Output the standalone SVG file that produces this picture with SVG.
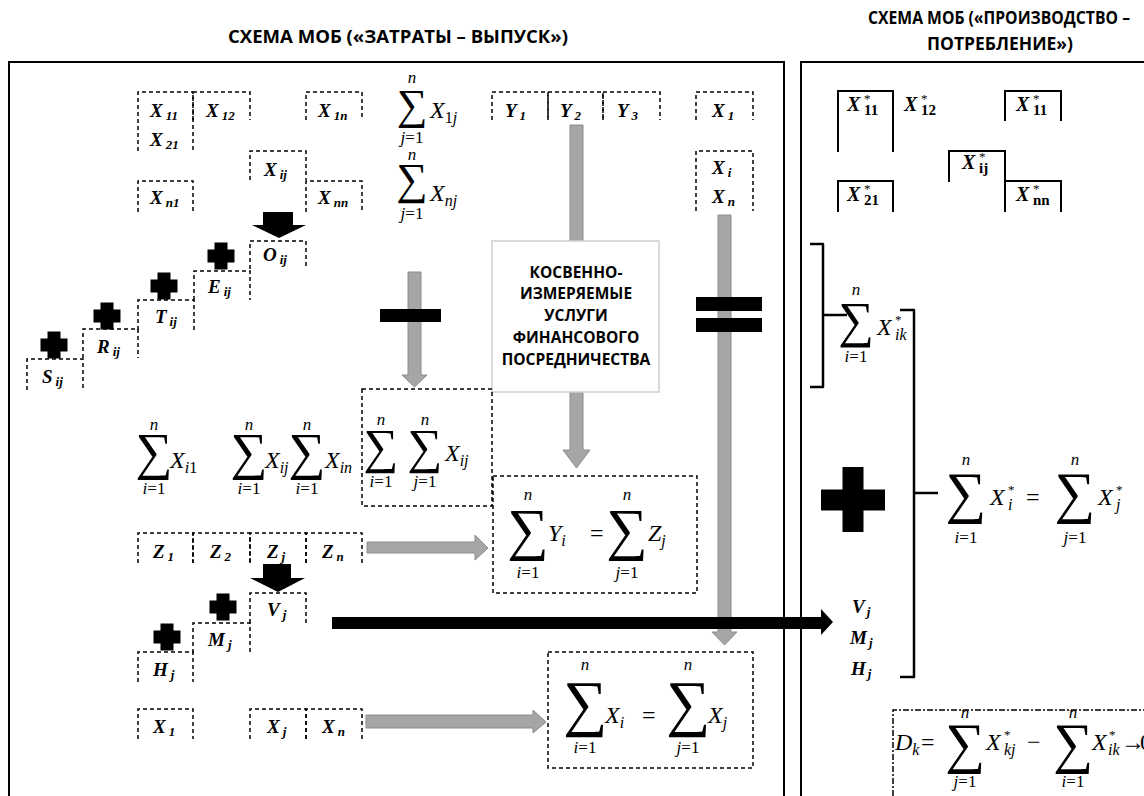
<svg xmlns="http://www.w3.org/2000/svg" xmlns:xlink="http://www.w3.org/1999/xlink" width="1144" height="796" viewBox="0 0 1144 796">
<style>
.frame{fill:none;stroke:#000;stroke-width:2}
.db{fill:none;stroke:#000;stroke-width:1.5;stroke-dasharray:4 3}
.dd{fill:none;stroke:#000;stroke-width:1.5;stroke-dasharray:6 2 2 2}
.sb{fill:none;stroke:#000;stroke-width:2}
.br{fill:none;stroke:#000;stroke-width:2.5;stroke-linejoin:round}
.lb{font-family:"Liberation Serif",serif;font-weight:bold;font-style:italic;font-size:19px}
.lbs{font-size:13px}
.m{font-family:"Liberation Serif",serif;font-style:italic;font-size:24px}
.ms{font-size:16px}
.up{font-style:normal}
.lim{font-family:"Liberation Serif",serif;font-size:17px;text-anchor:middle}
.i{font-style:italic}
.sg{font-family:"Liberation Serif",serif;text-anchor:middle}
.ga{fill:#a6a6a6;stroke:#8c8c8c;stroke-width:1}
.ba{fill:#000}
.title{font-family:"Open Sans",sans-serif;font-weight:bold;font-size:17px;text-anchor:middle;fill:#000}
.kt{font-family:"Open Sans",sans-serif;font-weight:bold;font-size:15.5px;text-anchor:middle;fill:#000}
.xs{font-family:"Liberation Serif",serif;font-weight:bold;font-style:italic;font-size:20px}
.sup{font-size:13px;font-style:normal;font-weight:normal}
.sbb{font-size:15px;font-style:normal}
</style>
<defs>
<path id="plus" d="M-6.5,-13.5H6.5V-6.5H13.5V6.5H6.5V13.5H-6.5V6.5H-13.5V-6.5H-6.5Z" fill="#000"/>
</defs>

<g id="titles">
<text class="title" x="398" y="43" textLength="340" lengthAdjust="spacingAndGlyphs">СХЕМА МОБ («ЗАТРАТЫ – ВЫПУСК»)</text>
<text class="title" x="999" y="24" font-size="16" textLength="262" lengthAdjust="spacingAndGlyphs">СХЕМА МОБ («ПРОИЗВОДСТВО –</text>
<text class="title" x="1000" y="50" textLength="146" lengthAdjust="spacingAndGlyphs">ПОТРЕБЛЕНИЕ»)</text>
</g>

<g id="frames">
<path class="frame" d="M9,796V62H784V796"/>
<path class="frame" d="M801,796V62H1144"/>
</g>

<g id="connectors">
<polygon class="ga" points="408,272 421,272 421,375 427,375 414.5,387 402,375 408,375"/>
<polygon class="ga" points="570,125 583,125 583,450 590,450 576.5,468 563,450 570,450"/>
<polygon class="ga" points="718,215 731,215 731,632 737,632 724.5,645 712,632 718,632"/>
<polygon class="ga" points="367,542 475,542 475,535 488,548 475,560 475,553 367,553"/>
<polygon class="ga" points="366,715 533,715 533,710 546,722 533,733 533,728 366,728"/>
<polygon class="ba" points="263,212 293,212 293,225 306,225 279,238 252,225 263,225"/>
<polygon class="ba" points="263,564 291,564 291,578 305,578 278,592 250,578 263,578"/>
<polygon class="ba" points="332,617 821,617 821,609 833,622 821,635 821,629 332,629"/>
<rect class="ba" x="380" y="309" width="61" height="13"/>
<rect class="ba" x="696" y="297" width="66" height="14"/>
<rect class="ba" x="696" y="318" width="66" height="14"/>
<use xlink:href="#plus" x="221" y="256"/>
<use xlink:href="#plus" x="164" y="286"/>
<use xlink:href="#plus" x="107" y="316"/>
<use xlink:href="#plus" x="54" y="345"/>
<use xlink:href="#plus" x="223" y="607"/>
<use xlink:href="#plus" x="167" y="637"/>
<path class="ba" d="M842.5,467H863.5V489.5H885V510.5H863.5V532H842.5V510.5H821V489.5H842.5Z"/>
<path class="br" d="M810,244H823V387H810M823,315H847"/>
<path class="br" d="M900,310H914V677H900M914,493H938"/>
</g>

<g id="n-x11"><path class="db" d="M138,151V92H193V151"/><text class="lb" x="150" y="117">X<tspan class="lbs" dx="3" dy="3">11</tspan></text><text class="lb" x="150" y="146">X<tspan class="lbs" dx="3" dy="3">21</tspan></text></g>
<g id="n-x12"><path class="db" d="M193,120V92H250V120"/><text class="lb" x="206" y="117">X<tspan class="lbs" dx="3" dy="3">12</tspan></text></g>
<g id="n-x1n"><path class="db" d="M306,120V92H362V120"/><text class="lb" x="318" y="117">X<tspan class="lbs" dx="3" dy="3">1n</tspan></text></g>
<g id="n-xij"><path class="db" d="M250,180V151H306V180"/><text class="lb" x="264" y="176">X<tspan class="lbs" dx="3" dy="3">ij</tspan></text></g>
<g id="n-xn1"><path class="db" d="M138,212V181H193V212"/><text class="lb" x="150" y="204">X<tspan class="lbs" dx="3" dy="3">n1</tspan></text></g>
<g id="n-xnn"><path class="db" d="M306,212V181H362V212"/><text class="lb" x="318" y="204">X<tspan class="lbs" dx="3" dy="3">nn</tspan></text></g>

<g id="n-oij"><path class="db" d="M250,269V241H306V269"/><text class="lb" x="263" y="261">O<tspan class="lbs" dx="3" dy="3">ij</tspan></text></g>
<g id="n-eij"><path class="db" d="M194,300V271H250V300"/><text class="lb" x="208" y="293">E<tspan class="lbs" dx="3" dy="3">ij</tspan></text></g>
<g id="n-tij"><path class="db" d="M138,330V300H194V330"/><text class="lb" x="155" y="323">T<tspan class="lbs" dx="3" dy="3">ij</tspan></text></g>
<g id="n-rij"><path class="db" d="M83,358V329H138V358"/><text class="lb" x="97" y="353">R<tspan class="lbs" dx="3" dy="3">ij</tspan></text></g>
<g id="n-sij"><path class="db" d="M27,390V359H83V390"/><text class="lb" x="42" y="383">S<tspan class="lbs" dx="3" dy="3">ij</tspan></text></g>

<g id="n-sum1j">
<text class="lim i" x="412" y="83">n</text>
<text class="sg" x="412" y="119" font-size="43">∑</text>
<text class="m" x="430" y="118">X<tspan class="ms" dy="5"><tspan class="up">1</tspan>j</tspan></text>
<text class="lim" x="412" y="143"><tspan class="i">j</tspan>=1</text>
</g>
<g id="n-sumnj">
<text class="lim i" x="412" y="160">n</text>
<text class="sg" x="412" y="194" font-size="44">∑</text>
<text class="m" x="430" y="201">X<tspan class="ms" dy="5">nj</tspan></text>
<text class="lim" x="412" y="219"><tspan class="i">j</tspan>=1</text>
</g>

<g id="n-y">
<path class="db" d="M492,120V92H548V120"/><path class="db" d="M548,120V92H603V120"/><path class="db" d="M603,120V92H660V120"/>
<text class="lb" x="505" y="117">Y<tspan class="lbs" dx="3" dy="3">1</tspan></text>
<text class="lb" x="560" y="117">Y<tspan class="lbs" dx="3" dy="3">2</tspan></text>
<text class="lb" x="617" y="117">Y<tspan class="lbs" dx="3" dy="3">3</tspan></text>
</g>
<g id="n-x1r"><path class="db" d="M696,120V92H753V120"/><text class="lb" x="712" y="117">X<tspan class="lbs" dx="3" dy="3">1</tspan></text></g>
<g id="n-xir"><path class="db" d="M696,211V151H753V211"/><text class="lb" x="712" y="174">X<tspan class="lbs" dx="3" dy="3">i</tspan></text><text class="lb" x="712" y="203">X<tspan class="lbs" dx="3" dy="3">n</tspan></text></g>

<g id="n-kosv">
<rect x="492" y="241" width="167" height="151" fill="#fff" stroke="#d0d0d0" stroke-width="1.5"/>
<text class="kt" x="576" y="278">КОСВЕННО-</text>
<text class="kt" x="576" y="299">ИЗМЕРЯЕМЫЕ</text>
<text class="kt" x="576" y="321">УСЛУГИ</text>
<text class="kt" x="576" y="343">ФИНАНСОВОГО</text>
<text class="kt" x="576" y="365">ПОСРЕДНИЧЕСТВА</text>
</g>

<g id="n-rowsums">
<text class="lim i" x="154" y="430">n</text><text class="sg" x="154" y="469" font-size="52">∑</text><text class="m" x="170" y="468">X<tspan class="ms" dy="5">i<tspan class="up">1</tspan></tspan></text><text class="lim" x="154" y="494"><tspan class="i">i</tspan>=1</text>
<text class="lim i" x="249" y="430">n</text><text class="sg" x="249" y="469" font-size="52">∑</text><text class="m" x="265" y="468">X<tspan class="ms" dy="5">ij</tspan></text><text class="lim" x="249" y="494"><tspan class="i">i</tspan>=1</text>
<text class="lim i" x="307" y="430">n</text><text class="sg" x="307" y="469" font-size="52">∑</text><text class="m" x="325" y="468">X<tspan class="ms" dy="5">in</tspan></text><text class="lim" x="307" y="494"><tspan class="i">i</tspan>=1</text>
</g>

<g id="n-dsum">
<rect class="db" x="362" y="389" width="130" height="117"/>
<text class="lim i" x="381" y="425">n</text><text class="sg" x="381" y="463" font-size="49">∑</text><text class="lim" x="381" y="487"><tspan class="i">i</tspan>=1</text>
<text class="lim i" x="425" y="425">n</text><text class="sg" x="425" y="463" font-size="49">∑</text><text class="lim" x="425" y="487"><tspan class="i">j</tspan>=1</text>
<text class="m" x="445" y="461">X<tspan class="ms" dy="5">ij</tspan></text>
</g>

<g id="n-yz">
<rect class="db" x="493" y="476" width="204" height="117"/>
<text class="lim i" x="528" y="500">n</text><text class="sg" x="528" y="549" font-size="58">∑</text><text class="lim" x="528" y="578"><tspan class="i">i</tspan>=1</text>
<text class="m" x="548" y="541">Y<tspan class="ms" dy="5">i</tspan></text>
<text class="m up" x="590" y="541">=</text>
<text class="lim i" x="627" y="500">n</text><text class="sg" x="627" y="549" font-size="58">∑</text><text class="lim" x="627" y="578"><tspan class="i">j</tspan>=1</text>
<text class="m" x="648" y="541">Z<tspan class="ms" dy="5">j</tspan></text>
</g>

<g id="n-z">
<path class="db" d="M138,563V533H193V563"/><path class="db" d="M193,563V533H250V563"/><path class="db" d="M250,563V533H306V563"/><path class="db" d="M306,563V533H362V563"/>
<text class="lb" x="153" y="558">Z<tspan class="lbs" dx="3" dy="3">1</tspan></text>
<text class="lb" x="210" y="558">Z<tspan class="lbs" dx="3" dy="3">2</tspan></text>
<text class="lb" x="267" y="558">Z<tspan class="lbs" dx="3" dy="3">j</tspan></text>
<text class="lb" x="322" y="558">Z<tspan class="lbs" dx="3" dy="3">n</tspan></text>
</g>

<g id="n-vj"><path class="db" d="M250,623V593H306V623"/><text class="lb" x="267" y="616">V<tspan class="lbs" dx="3" dy="3">j</tspan></text></g>
<g id="n-mj"><path class="db" d="M193,653V623H250V653"/><text class="lb" x="208" y="646">M<tspan class="lbs" dx="3" dy="3">j</tspan></text></g>
<g id="n-hj"><path class="db" d="M138,682V652H193V682"/><text class="lb" x="153" y="676">H<tspan class="lbs" dx="3" dy="3">j</tspan></text></g>

<g id="n-xrow">
<path class="db" d="M138,739V709H193V739"/><path class="db" d="M250,739V709H306V739"/><path class="db" d="M306,739V709H362V739"/>
<text class="lb" x="153" y="733">X<tspan class="lbs" dx="3" dy="3">1</tspan></text>
<text class="lb" x="267" y="733">X<tspan class="lbs" dx="3" dy="3">j</tspan></text>
<text class="lb" x="322" y="733">X<tspan class="lbs" dx="3" dy="3">n</tspan></text>
</g>

<g id="n-xsum">
<rect class="db" x="548" y="652" width="205" height="116"/>
<text class="lim i" x="585" y="670">n</text><text class="sg" x="585" y="724" font-size="62">∑</text><text class="lim" x="585" y="753"><tspan class="i">i</tspan>=1</text>
<text class="m" x="605" y="723">X<tspan class="ms" dy="5">i</tspan></text>
<text class="m up" x="642" y="723">=</text>
<text class="lim i" x="688" y="670">n</text><text class="sg" x="688" y="724" font-size="62">∑</text><text class="lim" x="688" y="753"><tspan class="i">j</tspan>=1</text>
<text class="m" x="708" y="723">X<tspan class="ms" dy="5">j</tspan></text>
</g>

<g id="n-rmatrix">
<path class="sb" d="M838,152V91H893V152"/>
<path class="sb" d="M1005,121V91H1061V121"/>
<path class="sb" d="M949,182V151H1005V182"/>
<path class="sb" d="M838,212V181H893V212"/>
<path class="sb" d="M1005,212V181H1061V212"/>
<text class="xs" x="847" y="111">X<tspan class="sup" x="864" y="103">*</tspan><tspan class="sbb" x="864" y="115">11</tspan></text>
<text class="xs" x="904" y="111">X<tspan class="sup" x="921" y="103">*</tspan><tspan class="sbb" x="921" y="115">12</tspan></text>
<text class="xs" x="1016" y="111">X<tspan class="sup" x="1033" y="103">*</tspan><tspan class="sbb" x="1033" y="115">11</tspan></text>
<text class="xs" x="962" y="169">X<tspan class="sup" x="979" y="161">*</tspan><tspan class="sbb" x="979" y="173">ij</tspan></text>
<text class="xs" x="847" y="201">X<tspan class="sup" x="864" y="193">*</tspan><tspan class="sbb" x="864" y="205">21</tspan></text>
<text class="xs" x="1016" y="201">X<tspan class="sup" x="1033" y="193">*</tspan><tspan class="sbb" x="1033" y="205">nn</tspan></text>
</g>

<g id="n-sumik">
<text class="lim i" x="856" y="295">n</text><text class="sg" x="856" y="337" font-size="50">∑</text><text class="lim" x="856" y="362"><tspan class="i">i</tspan>=1</text>
<text class="m" x="877" y="335">X<tspan class="sup" x="895" y="324">*</tspan><tspan class="ms" x="895" y="340">ik</tspan></text>
</g>

<g id="n-sumeq">
<text class="lim i" x="966" y="465">n</text><text class="sg" x="966" y="512" font-size="57">∑</text><text class="lim" x="966" y="543"><tspan class="i">i</tspan>=1</text>
<text class="m" x="990" y="505">X<tspan class="sup" x="1008" y="494">*</tspan><tspan class="ms" x="1008" y="510">i</tspan></text>
<text class="m up" x="1026" y="505">=</text>
<text class="lim i" x="1075" y="465">n</text><text class="sg" x="1075" y="512" font-size="57">∑</text><text class="lim" x="1075" y="543"><tspan class="i">j</tspan>=1</text>
<text class="m" x="1098" y="505">X<tspan class="sup" x="1116" y="494">*</tspan><tspan class="ms" x="1116" y="510">j</tspan></text>
</g>

<g id="n-vmh">
<text class="lb" x="852" y="613" font-size="17">V<tspan class="lbs" dx="2" dy="3">j</tspan></text>
<text class="lb" x="850" y="644" font-size="17">M<tspan class="lbs" dx="2" dy="3">j</tspan></text>
<text class="lb" x="851" y="675" font-size="17">H<tspan class="lbs" dx="2" dy="3">j</tspan></text>
</g>

<g id="n-dk">
<path class="dd" d="M893,796V710H1144"/>
<text class="m" x="895" y="750" font-size="21">D<tspan class="ms" font-size="14" dy="5">k</tspan></text>
<text class="m up" x="921" y="750">=</text>
<text class="lim i" x="965" y="718">n</text><text class="sg" x="965" y="762" font-size="56">∑</text><text class="lim" x="965" y="787"><tspan class="i">j</tspan>=1</text>
<text class="m" x="986" y="750">X<tspan class="sup" x="1004" y="739">*</tspan><tspan class="ms" x="1004" y="755">kj</tspan></text>
<text class="m up" x="1027" y="750">−</text>
<text class="lim i" x="1073" y="718">n</text><text class="sg" x="1073" y="762" font-size="56">∑</text><text class="lim" x="1073" y="787"><tspan class="i">i</tspan>=1</text>
<text class="m" x="1092" y="750">X<tspan class="sup" x="1109" y="739">*</tspan><tspan class="ms" x="1108" y="755" font-size="14">ik</tspan></text>
<text class="m up" x="1121" y="750" font-size="20">→</text>
<text class="m up" x="1140" y="750">0</text>
</g>
</svg>
